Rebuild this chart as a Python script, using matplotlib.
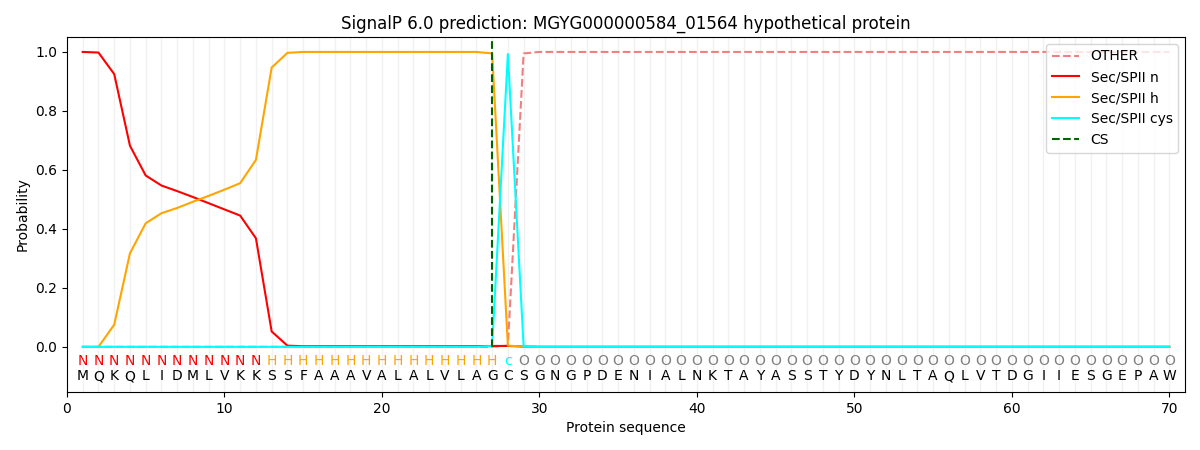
import matplotlib
matplotlib.use("Agg")
import matplotlib.pyplot as plt
import numpy as np

sequence = list("MQKQLIDMLVKKSSFAAAVALALVLAGCSGNGPDENIALNKTAYASSTYDYNLTAQLVTDGIIESGEPAW")
regions = list("NNNNNNNNNNNN" + "HHHHHHHHHHHHHHH" + "c" + "O" * 42)

sec_n = [1.0, 0.998, 0.925, 0.682, 0.581, 0.547, 0.528, 0.508, 0.487, 0.466, 0.445, 0.368, 0.052, 0.004,
         0.002, 0.002, 0.002, 0.002, 0.002, 0.002, 0.002, 0.002, 0.002, 0.002, 0.002, 0.002, 0.003, 0.003,
         0.001] + [0.0] * 41
sec_h = [0.0, 0.0, 0.075, 0.317, 0.419, 0.453, 0.471, 0.492, 0.512, 0.533, 0.555, 0.634, 0.947, 0.997,
         1.0, 1.0, 1.0, 1.0, 1.0, 1.0, 1.0, 1.0, 1.0, 1.0, 1.0, 1.0, 0.995, 0.004,
         0.001] + [0.0] * 41
sec_cys = [0.0] * 26 + [0.003, 0.993, 0.002] + [0.0] * 41
other = [0.0] * 27 + [0.004, 0.995] + [1.0] * 41
cs_pos = 27

region_colors = {"N": "red", "H": "orange", "c": "cyan", "O": "gray"}

x = np.arange(1, len(sequence) + 1)

fig = plt.figure(figsize=(12, 4.5), dpi=100)
ax = fig.add_axes([0.0558, 0.129, 0.9317, 0.789])

for xi in x:
    ax.axvline(xi, color="lightgray", alpha=0.3, linewidth=1, zorder=0)

ax.plot(x, other, color="lightcoral", linestyle="--", label="OTHER")
ax.plot(x, sec_n, color="red", label="Sec/SPII n")
ax.plot(x, sec_h, color="orange", label="Sec/SPII h")
ax.plot(x, sec_cys, color="cyan", label="Sec/SPII cys")
ax.plot([cs_pos, cs_pos], [0, 1.04], color="darkgreen", linestyle="--", label="CS")

for xi, r, s in zip(x, regions, sequence):
    ax.text(xi, -0.047, r, color=region_colors[r], ha="center", va="center", fontsize=10)
    ax.text(xi, -0.10, s, color="black", ha="center", va="center", fontsize=10)

ax.set_xlim(0, 71)
ax.set_ylim(-0.153, 1.051)
ax.set_xlabel("Protein sequence")
ax.set_ylabel("Probability")
ax.set_title("SignalP 6.0 prediction: MGYG000000584_01564 hypothetical protein")
ax.legend(loc="upper right")

fig.savefig("out.png", dpi=100)
